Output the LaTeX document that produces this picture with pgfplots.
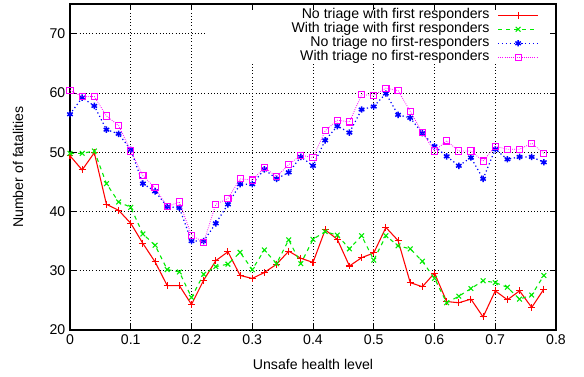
\documentclass[border=0pt]{standalone}
\usepackage{fontspec}
\setmainfont{Liberation Sans}
\usepackage{pgfplots}
\usepackage{pgfplotstable}
\pgfplotsset{compat=1.18}

\pgfplotstableread{
x y
0.00 49.4
0.02 47.0
0.04 49.9
0.06 41.2
0.08 40.2
0.10 38.0
0.12 34.6
0.14 31.5
0.16 27.5
0.18 27.5
0.20 24.3
0.22 28.4
0.24 31.7
0.26 33.2
0.28 29.2
0.30 28.7
0.32 29.7
0.34 31.1
0.36 33.3
0.38 32.1
0.40 31.4
0.42 36.9
0.44 35.3
0.46 30.8
0.48 32.2
0.50 33.0
0.52 37.3
0.54 35.1
0.56 28.0
0.58 27.3
0.60 29.6
0.62 24.8
0.64 24.6
0.66 25.2
0.68 22.2
0.70 26.6
0.72 25.1
0.74 26.6
0.76 23.8
0.78 26.9
}\tabA

\pgfplotstableread{
x y
0.00 49.8
0.02 49.8
0.04 50.2
0.06 44.7
0.08 41.6
0.10 40.7
0.12 36.2
0.14 34.3
0.16 30.2
0.18 29.8
0.20 25.5
0.22 29.4
0.24 30.7
0.26 31.1
0.28 33.1
0.30 30.2
0.32 33.5
0.34 31.2
0.36 35.2
0.38 31.2
0.40 35.3
0.42 36.6
0.44 36.0
0.46 33.7
0.48 35.9
0.50 31.8
0.52 35.9
0.54 34.2
0.56 33.7
0.58 31.6
0.60 28.7
0.62 24.6
0.64 25.7
0.66 27.0
0.68 28.3
0.70 28.0
0.72 27.2
0.74 25.2
0.76 25.9
0.78 29.2
}\tabB

\pgfplotstableread{
x y
0.00 56.4
0.02 59.2
0.04 57.8
0.06 53.8
0.08 53.1
0.10 50.4
0.12 44.7
0.14 43.4
0.16 40.8
0.18 40.6
0.20 35.0
0.22 35.0
0.24 38.0
0.26 41.2
0.28 44.6
0.30 44.6
0.32 47.1
0.34 45.5
0.36 46.6
0.38 49.2
0.40 47.7
0.42 52.0
0.44 54.4
0.46 53.3
0.48 57.2
0.50 57.7
0.52 59.9
0.54 56.3
0.56 55.8
0.58 53.2
0.60 51.0
0.62 49.3
0.64 47.7
0.66 49.1
0.68 45.5
0.70 50.5
0.72 48.8
0.74 49.2
0.76 49.2
0.78 48.3
}\tabC

\pgfplotstableread{
x y
0.00 60.4
0.02 59.4
0.04 59.4
0.06 56.1
0.08 54.5
0.10 50.2
0.12 46.0
0.14 44.0
0.16 40.8
0.18 41.6
0.20 36.0
0.22 34.8
0.24 41.2
0.26 42.2
0.28 45.5
0.30 45.3
0.32 47.4
0.34 45.9
0.36 47.9
0.38 49.5
0.40 49.1
0.42 53.6
0.44 55.4
0.46 55.1
0.48 59.7
0.50 59.6
0.52 60.8
0.54 60.4
0.56 56.9
0.58 53.3
0.60 50.2
0.62 51.9
0.64 50.2
0.66 50.2
0.68 48.5
0.70 51.0
0.72 50.5
0.74 50.5
0.76 51.5
0.78 49.8
}\tabD

\definecolor{gpred}{RGB}{255,0,0}
\definecolor{gpgreen}{RGB}{0,235,0}
\definecolor{gpblue}{RGB}{0,0,255}
\definecolor{gpmag}{RGB}{255,0,255}

\begin{document}
\begin{tikzpicture}[font=\fontsize{10.6}{12.7}\selectfont]
\begin{axis}[
  scale only axis,
  width=364.5pt, height=244.5pt,
  xmin=0, xmax=0.8, ymin=20, ymax=75,
  clip mode=individual,
  xtick={0,0.1,...,0.8},
  ytick={20,30,40,50,60,70},
  xticklabels={0,0.1,0.2,0.3,0.4,0.5,0.6,0.7,0.8},
  /pgf/number format/assume math mode=true,
  tick align=inside,
  major tick length=4.5pt,
  grid=major,
  major grid style={black, dotted, line width=0.5pt},
  axis line style={black, line width=0.8pt},
  every tick/.style={black, line width=0.6pt},
  xlabel={Unsafe health level},
  ylabel={Number of fatalities},
  xlabel style={at={(axis description cs:0.5,-0.107)}, anchor=center},
  ylabel style={at={(axis description cs:-0.107,0.5)}, anchor=center},
  legend plot pos=right,
  legend cell align=right,
  legend style={draw=none, fill=none, at={(axis description cs:0.965,1)}, yshift=-3pt,
    anchor=north east, inner sep=0pt, column sep=6pt,
    nodes={inner sep=0pt, text height=7.8pt, text depth=2.7pt}},
  legend image code/.code={\draw[mark repeat=2,mark phase=2,#1] plot coordinates {(0pt,0pt)(15pt,0pt)(30pt,0pt)};},
]
\fill[white] (axis cs:0.222,64.9) rectangle (axis cs:0.789,73.8);
\addplot[gpred, line width=0.8pt, mark=+, mark size=2.6pt, mark options={solid}] table[x=x,y=y] {\tabA};
\addlegendentry{No triage with first responders}
\addplot[gpgreen, line width=0.8pt, dashed, mark=x, mark size=2.5pt, mark options={solid}] table[x=x,y=y] {\tabB};
\addlegendentry{With triage with first responders}
\addplot[gpblue, line width=0.9pt, dotted, mark=asterisk, mark size=2.4pt, mark options={solid, line width=1.1pt}] table[x=x,y=y] {\tabC};
\addlegendentry{No triage no first-responders}
\addplot[gpmag, line width=0.6pt, densely dotted, mark=square, mark size=2.3pt, mark options={solid, line width=0.8pt}] table[x=x,y=y] {\tabD};
\addlegendentry{With triage no first-responders}
\end{axis}
\pgfresetboundingbox
\path ([xshift=-52.5pt,yshift=-34.5pt]current axis.south west) rectangle ([xshift=21pt,yshift=3pt]current axis.north east);
\end{tikzpicture}
\end{document}
